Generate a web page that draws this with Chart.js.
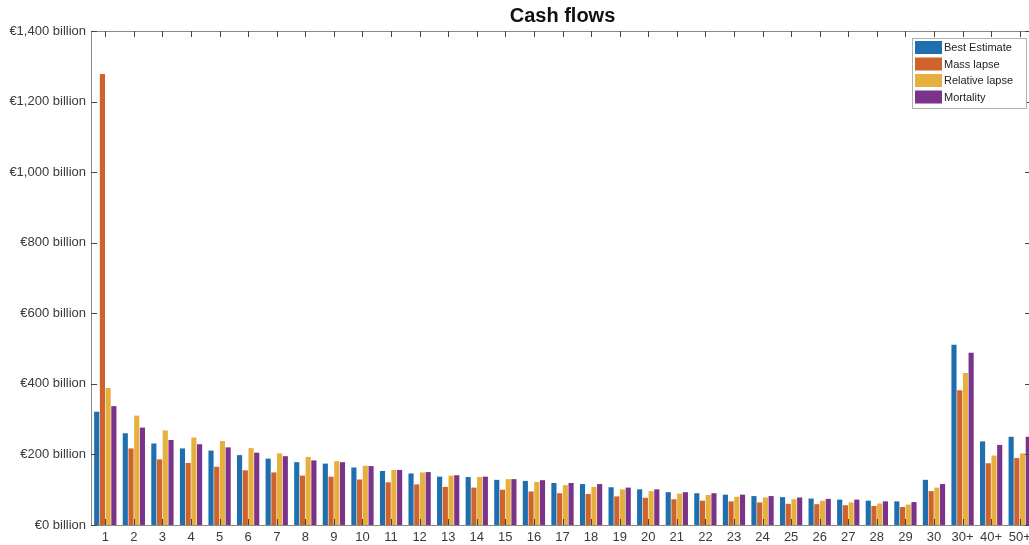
<!DOCTYPE html>
<html>
<head>
<meta charset="utf-8">
<script src="https://cdn.jsdelivr.net/npm/chart.js@4/dist/chart.umd.min.js"></script>
<style>
  html, body { margin: 0; padding: 0; background: #fff; overflow: hidden; }
  #wrap { width: 1040px; height: 545px; }
</style>
</head>
<body>
<div id="wrap"><canvas id="chart" width="1040" height="545"></canvas></div>
<script>
/* =============== Data =============== */
const categories = ["1","2","3","4","5","6","7","8","9","10","11","12","13","14","15","16","17","18","19","20",
  "21","22","23","24","25","26","27","28","29","30","30+","40+","50+"];

const bestEstimate = [321,260,231,217,211,198,188,178,174,163,153,146,137,136,128,125,119,116,107,101,
  93,90,86,82,79,75,72,69,67,128,511,237,250];
const massLapse = [1278,217,186,176,165,155,149,140,137,129,121,115,108,106,100,95,90,88,81,77,
  73,69,67,64,60,59,56,54,51,96,382,175,190];
const relativeLapse = [388,310,268,248,238,218,203,193,181,168,156,149,140,136,130,122,113,108,101,96,
  89,85,80,78,73,69,64,61,58,106,431,197,203];
const mortality = [337,276,241,229,220,205,195,183,178,167,156,150,141,137,130,127,119,116,106,101,
  93,90,86,82,78,74,72,67,65,116,488,227,250];

const seriesNames = ["Best Estimate", "Mass lapse", "Relative lapse", "Mortality"];
const seriesColors = ["#1f6fae", "#cf632c", "#e7b03e", "#7a3389"];

const yTicks = [0, 200, 400, 600, 800, 1000, 1200, 1400];

const FONT = "'Liberation Sans', Arial, sans-serif";

/* =============== Plugins =============== */
// MATLAB-ish box, inward ticks and an in-plot legend
const boxPlugin = {
  id: "box",
  afterDatasetsDraw(chart) {
    const { ctx, chartArea: a, scales } = chart;
    ctx.save();
    ctx.strokeStyle = "#8a8a8a";
    ctx.lineWidth = 1;
    ctx.strokeRect(Math.round(a.left) + 0.5, Math.round(a.top) + 0.5,
      Math.round(a.right - a.left), Math.round(a.bottom - a.top));

    ctx.strokeStyle = "#444";
    ctx.beginPath();
    for (const v of yTicks) {
      const y = Math.round(scales.y.getPixelForValue(v)) + 0.5;
      ctx.moveTo(a.left, y); ctx.lineTo(a.left + 6, y);
      ctx.moveTo(a.right, y); ctx.lineTo(a.right - 9, y);
    }
    categories.forEach((c, i) => {
      const x = Math.round(scales.x.getPixelForValue(i)) + 0.5;
      ctx.moveTo(x, a.bottom); ctx.lineTo(x, a.bottom - 6);
      ctx.moveTo(x, a.top); ctx.lineTo(x, a.top + 6);
    });
    ctx.stroke();
    ctx.restore();
  },
  afterDraw(chart) {
    const { ctx } = chart;
    const lx = 912, ly = 38, lw = 114, lh = 70;
    ctx.save();
    ctx.fillStyle = "#fff";
    ctx.fillRect(lx, ly, lw, lh);
    ctx.strokeStyle = "#b0b0b0";
    ctx.lineWidth = 1;
    ctx.strokeRect(lx + 0.5, ly + 0.5, lw, lh);
    ctx.font = "11px " + FONT;
    ctx.textBaseline = "middle";
    seriesNames.forEach((name, i) => {
      const cy = ly + 9 + i * 16.5;
      ctx.fillStyle = seriesColors[i];
      ctx.fillRect(lx + 3, cy - 6, 27, 13);
      ctx.fillStyle = "#222";
      ctx.fillText(name, lx + 32, cy + 1);
    });
    ctx.restore();
  }
};

/* =============== Chart =============== */
const seriesData = [bestEstimate, massLapse, relativeLapse, mortality];

new Chart(document.getElementById("chart"), {
  type: "bar",
  data: {
    labels: categories,
    datasets: seriesNames.map((name, i) => ({
      label: name,
      data: seriesData[i],
      backgroundColor: seriesColors[i],
      borderWidth: 0,
      categoryPercentage: 0.8,
      barPercentage: 0.9
    }))
  },
  options: {
    responsive: false,
    devicePixelRatio: 1,
    animation: false,
    layout: { padding: { left: 0, right: 6, top: 0, bottom: 0 } },
    plugins: {
      legend: { display: false },
      tooltip: { enabled: false },
      title: {
        display: true,
        text: "Cash flows",
        fullSize: false,
        color: "#111",
        font: { family: FONT, size: 20, weight: "bold" },
        padding: { top: 4, bottom: 3 }
      }
    },
    scales: {
      x: {
        grid: { display: false, drawTicks: false },
        border: { display: false },
        ticks: {
          color: "#3a3a3a",
          font: { family: FONT, size: 13 },
          padding: 5,
          autoSkip: false,
          maxRotation: 0
        },
        afterFit(scale) { scale.height = 20; }
      },
      y: {
        min: 0,
        max: 1400,
        grid: { display: false, drawTicks: false },
        border: { display: false },
        afterBuildTicks(scale) { scale.ticks = yTicks.map(v => ({ value: v })); },
        ticks: {
          color: "#3a3a3a",
          font: { family: FONT, size: 13 },
          padding: 5,
          callback: (v) => "€" + Number(v).toLocaleString("en-US") + " billion"
        },
        afterFit(scale) { scale.width = 91; }
      }
    }
  },
  plugins: [boxPlugin]
});
</script>
</body>
</html>
